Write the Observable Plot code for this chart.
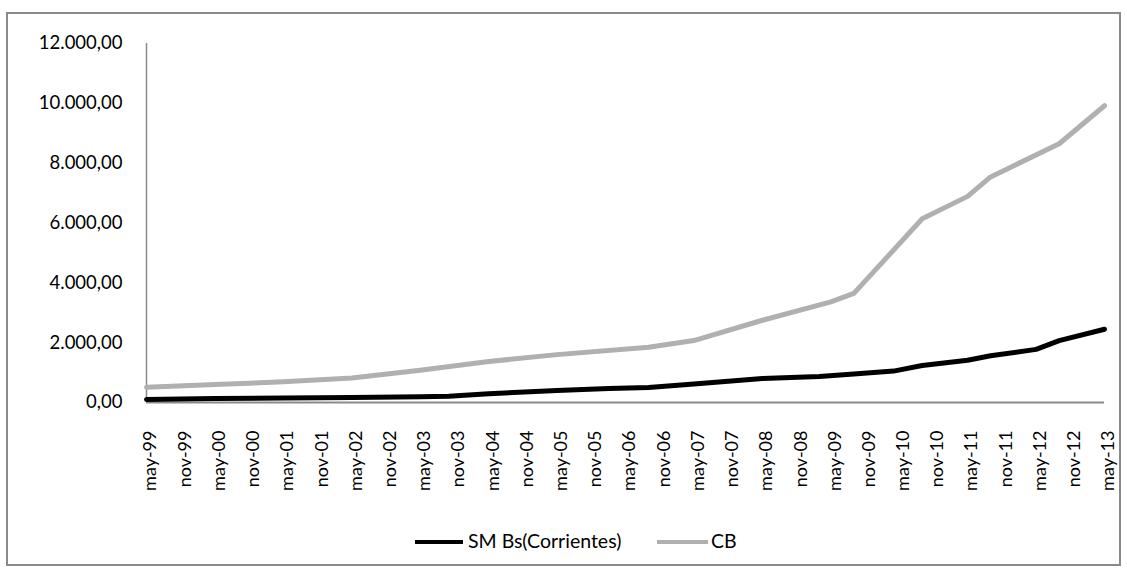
<!DOCTYPE html>
<html><head><meta charset="utf-8">
<script src="https://cdn.jsdelivr.net/npm/d3@7"></script>
<script src="https://cdn.jsdelivr.net/npm/@observablehq/plot@0.6"></script>
<style>
body{margin:0;background:#fff;font-family:Lato,sans-serif;}
#wrap{position:relative;width:1127px;height:570px;overflow:hidden;background:#fff;}
#border{position:absolute;left:6px;top:12px;width:1115px;height:554px;border:2px solid #8a8a8a;box-sizing:border-box;}
#chart{position:absolute;left:0;top:0;}
.leg{position:absolute;top:529px;height:24px;line-height:24px;font-size:19.5px;color:#000;white-space:nowrap;}
.sw{position:absolute;height:4px;top:11px;}
</style></head>
<body>
<div id="wrap"><div id="border"></div><div id="chart"></div></div>
<script>
// Series names
const seriesNames = ["SM Bs(Corrientes)", "CB"];
const seriesColors = ["#000000", "#b0b0b0"];

// SM Bs(Corrientes) – dates and values
const smDates = ["1999-05","2000-05","2001-05","2002-05","2003-05","2003-10","2004-05","2005-05","2006-02","2006-09","2007-05","2008-05","2009-03","2009-09","2010-04","2010-09","2011-05","2011-09","2012-05","2012-09","2013-05"];
const smValues = [100,130,150,170,190,209,296,405,465,505,620,800,870,950,1050,1235,1410,1565,1775,2070,2450];

// CB – dates and values
const cbDates = ["1999-05","2000-05","2001-05","2002-05","2003-05","2004-05","2005-05","2006-09","2007-05","2008-05","2009-05","2009-09","2010-09","2011-05","2011-09","2012-09","2013-05"];
const cbValues = [510,600,690,820,1080,1370,1600,1850,2070,2750,3366,3647,6140,6890,7540,8650,9920];

// X tick labels
const tickDates = ["1999-05","1999-11","2000-05","2000-11","2001-05","2001-11","2002-05","2002-11","2003-05","2003-11","2004-05","2004-11","2005-05","2005-11","2006-05","2006-11","2007-05","2007-11","2008-05","2008-11","2009-05","2009-11","2010-05","2010-11","2011-05","2011-11","2012-05","2012-11","2013-05"];
const tickLabels = ["may-99","nov-99","may-00","nov-00","may-01","nov-01","may-02","nov-02","may-03","nov-03","may-04","nov-04","may-05","nov-05","may-06","nov-06","may-07","nov-07","may-08","nov-08","may-09","nov-09","may-10","nov-10","may-11","nov-11","may-12","nov-12","may-13"];

// Y ticks
const yTicks = [0,2000,4000,6000,8000,10000,12000];

const parse = d3.utcParse("%Y-%m");
const data = [
  ...smDates.map((d,i)=>({date:parse(d), value:smValues[i], series:seriesNames[0]})),
  ...cbDates.map((d,i)=>({date:parse(d), value:cbValues[i], series:seriesNames[1]}))
];
const ticks = tickDates.map(parse);
const labelOf = new Map(ticks.map((t,i)=>[+t, tickLabels[i]]));
const loc = d3.formatLocale({decimal:",", thousands:".", grouping:[3], currency:["",""]});
const yfmt = loc.format(",.2f");

const chart = Plot.plot({
  width:1127, height:515,
  marginLeft:146, marginRight:23, marginTop:43, marginBottom:113,
  style:{fontFamily:"Lato, sans-serif", fontSize:"18.5px", color:"#000", background:"transparent"},
  x:{type:"utc", domain:[ticks[0], ticks[ticks.length-1]]},
  y:{domain:[0,12000]},
  color:{domain:seriesNames, range:seriesColors},
  marks:[
    Plot.ruleX([ticks[0]], {y1:0, y2:12000, stroke:"#8a8a8a", strokeWidth:1.5}),
    Plot.ruleY([0], {stroke:"#8a8a8a", strokeWidth:2}),
    Plot.axisY({ticks:yTicks, tickFormat:yfmt, tickSize:0, tickPadding:24, fontSize:18.5, label:null}),
    Plot.axisX({ticks:ticks, tickFormat:d=>labelOf.get(+d), tickSize:0, tickPadding:28, tickRotate:-90, fontSize:18, label:null, dx:4}),
    Plot.line(data.filter(d=>d.series===seriesNames[1]), {x:"date", y:"value", stroke:"series", strokeWidth:5, strokeLinejoin:"round", strokeLinecap:"round"}),
    Plot.line(data.filter(d=>d.series===seriesNames[0]), {x:"date", y:"value", stroke:"series", strokeWidth:5, strokeLinejoin:"round", strokeLinecap:"round"})
  ]
});
document.getElementById("chart").appendChild(chart);

// Legend
const wrap = document.getElementById("wrap");
const legPos = [{sw:415, w:48, tx:468},{sw:657, w:51, tx:711}];
seriesNames.forEach((n,i)=>{
  const s = document.createElement("div");
  s.className="leg"; s.style.left="0px"; s.style.width="1127px";
  s.innerHTML = `<div class="sw" style="left:${legPos[i].sw}px;width:${legPos[i].w}px;background:${seriesColors[i]}"></div><span style="position:absolute;left:${legPos[i].tx}px">${n}</span>`;
  wrap.appendChild(s);
});
</script>
</body></html>
